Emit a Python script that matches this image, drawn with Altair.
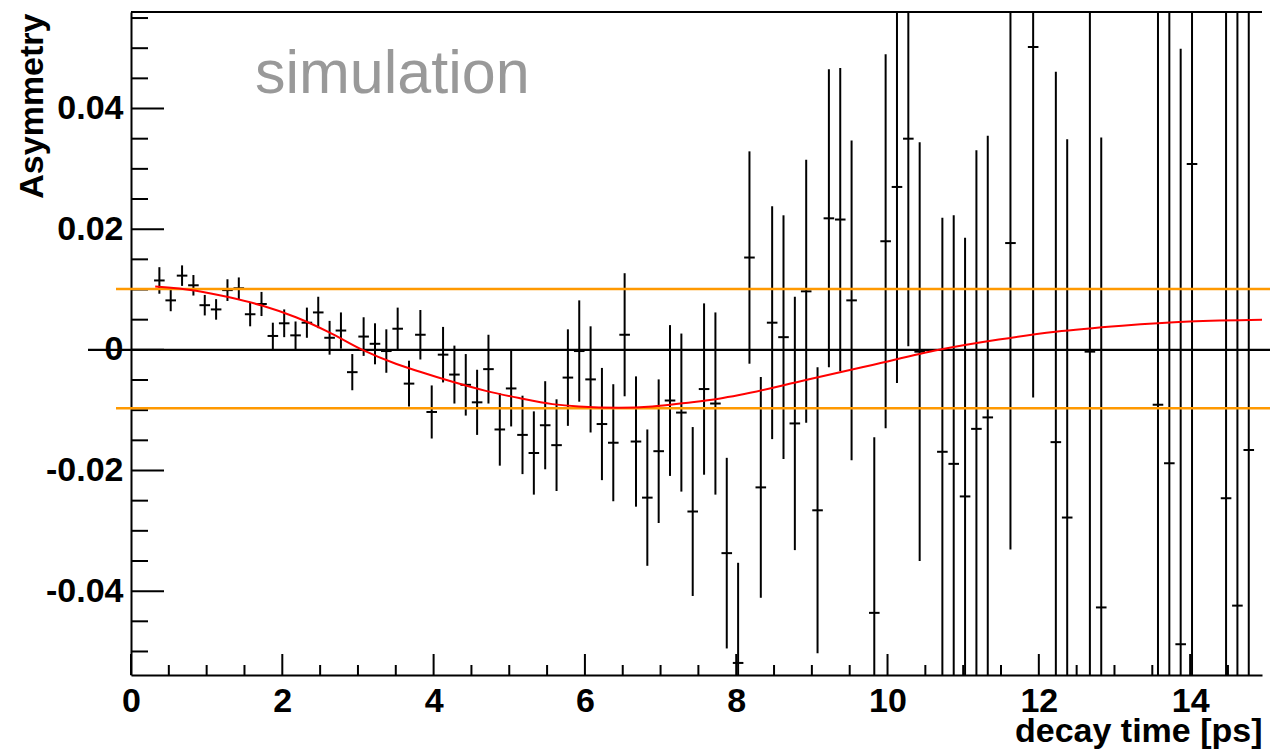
import altair as alt
import pandas as pd

# ---------------- data ----------------
# bin centres [ps] of the simulated decay-time histogram
t_bins = [0.375, 0.525, 0.675, 0.825, 0.975, 1.125, 1.275, 1.425, 1.575, 1.725,
          1.875, 2.025, 2.175, 2.325, 2.475, 2.625, 2.775, 2.925, 3.075, 3.225,
          3.375, 3.525, 3.675, 3.825, 3.975, 4.125, 4.275, 4.425, 4.575, 4.725,
          4.875, 5.025, 5.175, 5.325, 5.475, 5.625, 5.775, 5.925, 6.075, 6.225,
          6.375, 6.525, 6.675, 6.825, 6.975, 7.125, 7.275, 7.425, 7.575, 7.725,
          7.875, 8.025, 8.175, 8.325, 8.475, 8.625, 8.775, 8.925, 9.075, 9.225,
          9.375, 9.525, 9.825, 9.975, 10.125, 10.275, 10.425, 10.725, 10.875, 11.025,
          11.175, 11.325, 11.625, 11.925, 12.225, 12.375, 12.675, 12.825, 13.575, 13.725,
          13.875, 14.025, 14.475, 14.625, 14.775]
asym = [0.0115, 0.0082, 0.0123, 0.0107, 0.0074, 0.0067, 0.0099, 0.0102, 0.0059, 0.0076,
        0.0023, 0.0044, 0.0024, 0.0045, 0.0062, 0.0020, 0.0032, -0.0037, 0.0022, 0.0010,
        -0.0002, 0.0035, -0.0056, 0.0025, -0.0103, -0.0008, -0.0041, -0.0058, -0.0087, -0.0032,
        -0.0132, -0.0064, -0.0141, -0.0171, -0.0125, -0.0158, -0.0046, -0.0002, -0.0049, -0.0123,
        -0.0154, 0.0025, -0.0152, -0.0245, -0.0168, -0.0084, -0.0104, -0.0268, -0.0065, -0.0089,
        -0.0337, -0.0519, 0.0153, -0.0228, 0.0045, 0.0021, -0.0122, 0.0097, -0.0266, 0.0218,
        0.0216, 0.0082, -0.0436, 0.0180, 0.0270, 0.0350, -0.0003, -0.0169, -0.0189, -0.0243,
        -0.0131, -0.0112, 0.0177, 0.0502, -0.0153, -0.0278, -0.0003, -0.0427, -0.0091, -0.0188,
        -0.0488, 0.0308, -0.0246, -0.0424, -0.0166]
asym_err = [0.0022, 0.0018, 0.0017, 0.0017, 0.0017, 0.0017, 0.0018, 0.0018, 0.0020, 0.0020,
            0.0022, 0.0023, 0.0023, 0.0025, 0.0026, 0.0028, 0.0030, 0.0030, 0.0032, 0.0034,
            0.0036, 0.0035, 0.0038, 0.0041, 0.0044, 0.0046, 0.0048, 0.0051, 0.0054, 0.0057,
            0.0060, 0.0063, 0.0065, 0.0069, 0.0073, 0.0076, 0.0080, 0.0084, 0.0088, 0.0093,
            0.0097, 0.0102, 0.0108, 0.0113, 0.0119, 0.0125, 0.0131, 0.0140, 0.0142, 0.0151,
            0.0158, 0.0166, 0.0176, 0.0183, 0.0193, 0.0202, 0.0210, 0.0218, 0.0237, 0.0247,
            0.0251, 0.0265, 0.0291, 0.0310, 0.0325, 0.0344, 0.0347, 0.0388, 0.0412, 0.0429,
            0.0462, 0.0467, 0.0508, 0.0581, 0.0614, 0.0627, 0.0680, 0.0779, 0.0900, 0.0950,
            0.0987, 0.1000, 0.1100, 0.1200, 0.1300]
bin_half_width = 0.07

# fitted curve (red), sampled along the drawn line
fit_t = [0.32, 0.86, 1.30, 1.74, 2.18, 2.62, 3.06, 3.50, 3.81, 4.25, 4.69, 5.13, 5.57,
         5.92, 6.45, 6.89, 7.33, 7.77, 8.04, 8.92, 9.80, 10.68, 11.47, 12.22,
         13.10, 13.99, 14.95]
fit_v = [0.0105, 0.0098, 0.0087, 0.0073, 0.0054, 0.0029, 0.0000, -0.0023, -0.0036, -0.0053,
         -0.0068, -0.0080, -0.0090, -0.0094, -0.0096, -0.0094, -0.0088, -0.0081, -0.0075,
         -0.0050, -0.0025, 0.0000, 0.0017, 0.0030, 0.0040, 0.0047, 0.0050]

band_levels = [0.0101, -0.0097]   # orange horizontal lines
zero_level = [0.0]

x_label_values = [0, 2, 4, 6, 8, 10, 12, 14]
y_label_values = [-0.04, -0.02, 0.0, 0.02, 0.04]
x_major_ticks = [0, 2, 4, 6, 8, 10, 12, 14]
x_minor_ticks = [0.5, 1, 1.5, 2.5, 3, 3.5, 4.5, 5, 5.5, 6.5, 7, 7.5, 8.5, 9, 9.5,
                 10.5, 11, 11.5, 12.5, 13, 13.5, 14.5]
y_major_ticks = [-0.04, -0.02, 0.0, 0.02, 0.04]
y_minor_ticks = [-0.05, -0.045, -0.035, -0.03, -0.025, -0.015, -0.01, -0.005,
                 0.005, 0.01, 0.015, 0.025, 0.03, 0.035, 0.045, 0.05, 0.055]

X_DOMAIN = [0, 14.95]
Y_DOMAIN = [-0.0539, 0.056]

# ---------------- layout ----------------
W, H = 1131, 663
FONT = "Liberation Sans"
FS = 34

pts = pd.DataFrame({"t": t_bins, "v": asym, "e": asym_err})
pts["lo"] = pts["v"] - pts["e"]
pts["hi"] = pts["v"] + pts["e"]
pts["tl"] = pts["t"] - bin_half_width
pts["tr"] = pts["t"] + bin_half_width

fit = pd.DataFrame({"t": fit_t, "v": fit_v})

xs = alt.Scale(domain=X_DOMAIN, nice=False, zero=False)
ys = alt.Scale(domain=Y_DOMAIN, nice=False, zero=False)

x_axis = alt.Axis(
    values=x_label_values, format="d", ticks=False, tickSize=0, grid=False,
    domain=True, domainColor="black", domainWidth=2,
    labelFont=FONT, labelFontWeight="bold", labelFontSize=FS, labelColor="black",
    labelPadding=9, labelFlush=False, labelOverlap=False,
    title="decay time [ps]", titleFont=FONT, titleFontWeight="bold", titleFontSize=FS,
    titleColor="black", titleX=W, titleY=66, titleAlign="right", titleBaseline="alphabetic",
)
y_axis = alt.Axis(
    values=y_label_values, ticks=False, tickSize=0, grid=False,
    labelExpr="datum.value == 0 ? '0' : (datum.value < 0 ? '-' : '') + format(abs(datum.value), '.2f')",
    domain=True, domainColor="black", domainWidth=2,
    labelFont=FONT, labelFontWeight="bold", labelFontSize=FS, labelColor="black",
    labelPadding=8, labelFlush=False, labelOverlap=False,
    title="Asymmetry", titleFont=FONT, titleFontWeight="bold", titleFontSize=FS,
    titleColor="black", titleX=-89, titleY=1, titleAngle=270, titleAlign="right",
    titleBaseline="alphabetic",
)


def X(field):
    return alt.X(field, type="quantitative", scale=xs, axis=x_axis)


def Y(field):
    return alt.Y(field, type="quantitative", scale=ys, axis=y_axis)


one = pd.DataFrame({"a": [0]})

# ticks drawn inside the frame, ROOT style
ytick_major = alt.Chart(pd.DataFrame({"v": y_major_ticks})).mark_rule(
    color="black", strokeWidth=2).encode(y=Y("v"), x=alt.value(0), x2=alt.value(33))
ytick_minor = alt.Chart(pd.DataFrame({"v": y_minor_ticks})).mark_rule(
    color="black", strokeWidth=2).encode(y=Y("v"), x=alt.value(0), x2=alt.value(17))
xtick_major = alt.Chart(pd.DataFrame({"t": x_major_ticks})).mark_rule(
    color="black", strokeWidth=2).encode(x=X("t"), y=alt.value(H), y2=alt.value(H - 21))
xtick_minor = alt.Chart(pd.DataFrame({"t": x_minor_ticks})).mark_rule(
    color="black", strokeWidth=2).encode(x=X("t"), y=alt.value(H), y2=alt.value(H - 10))

top_frame = alt.Chart(one).mark_rule(color="black", strokeWidth=2).encode(
    y=alt.value(0), x=alt.value(0), x2=alt.value(W))

vbars = alt.Chart(pts).mark_rule(color="black", strokeWidth=2, clip=True).encode(
    x=X("t"), y=Y("lo"), y2="hi")
hbars = alt.Chart(pts).mark_rule(color="black", strokeWidth=2, clip=True).encode(
    x=X("tl"), x2="tr", y=Y("v"))

orange = alt.Chart(pd.DataFrame({"v": band_levels})).mark_rule(
    color="#ff9900", strokeWidth=2.5).encode(y=Y("v"), x=alt.value(-15), x2=alt.value(1139))
zero = alt.Chart(pd.DataFrame({"v": zero_level})).mark_rule(
    color="black", strokeWidth=2.2).encode(y=Y("v"), x=alt.value(-43), x2=alt.value(1139))

fit_line = alt.Chart(fit).mark_line(
    color="#ff0000", strokeWidth=2, clip=True, interpolate="monotone").encode(
    x=X("t"), y=Y("v"))

label = alt.Chart(one).mark_text(
    align="left", baseline="alphabetic", font=FONT, fontSize=61, color="#999999").encode(
    x=alt.value(124), y=alt.value(81), text=alt.value("simulation"))

chart = alt.layer(
    ytick_major, ytick_minor, xtick_major, xtick_minor, top_frame,
    vbars, hbars, orange, zero, fit_line, label,
).properties(
    width=W, height=H,
    autosize=alt.AutoSizeParams(type="none"),
    padding={"left": 131, "top": 12, "right": 8, "bottom": 81},
    background="white",
).configure_view(stroke=None)

chart.save("out.html", embed_options={"renderer": "svg", "actions": False})
